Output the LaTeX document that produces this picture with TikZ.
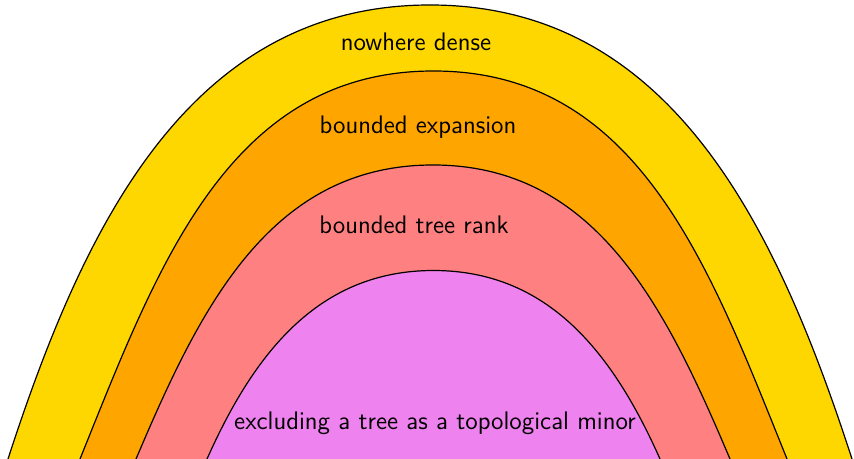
\documentclass[tikz,border=0pt]{standalone}
\definecolor{cgold}{RGB}{255,215,0}
\definecolor{corange}{RGB}{255,165,0}
\definecolor{cpink}{RGB}{255,128,128}
\definecolor{cviolet}{RGB}{238,130,238}
\newcommand\archshape[5]{% color, center x, half width W, height T, angle
  \fill[#1] (#2-#3,0) to[out=#5,in=180] (#2,#4) to[out=0,in=180-#5] (#2+#3,0) -- cycle;
  \draw[archline] (#2-#3,0) to[out=#5,in=180] (#2,#4) to[out=0,in=180-#5] (#2+#3,0);
}
\begin{document}
\begin{tikzpicture}[x=0.5pt,y=0.5pt,
  archline/.style={black,line width=0.6pt},
  lbl/.style={font=\sffamily\fontsize{12.7}{15}\selectfont,inner sep=0pt}]
\useasboundingbox (0,0) rectangle (854,459);
\clip (0,0) rectangle (854,459);
\archshape{cgold}{430}{422}{454}{72}
\archshape{corange}{433.5}{353.5}{388}{68}
\archshape{cpink}{433}{297}{294}{67}
\archshape{cviolet}{433.5}{226.5}{188.5}{66}
\node[lbl] (nd) at (416,417) {nowhere dense};
\node[lbl] (be) at (418,332) {bounded expansion};
\node[lbl] (btr) at (414,234) {bounded tree rank};
\node[lbl] (ex) at (435,36) {excluding a tree as a topological minor};
\end{tikzpicture}
\end{document}
